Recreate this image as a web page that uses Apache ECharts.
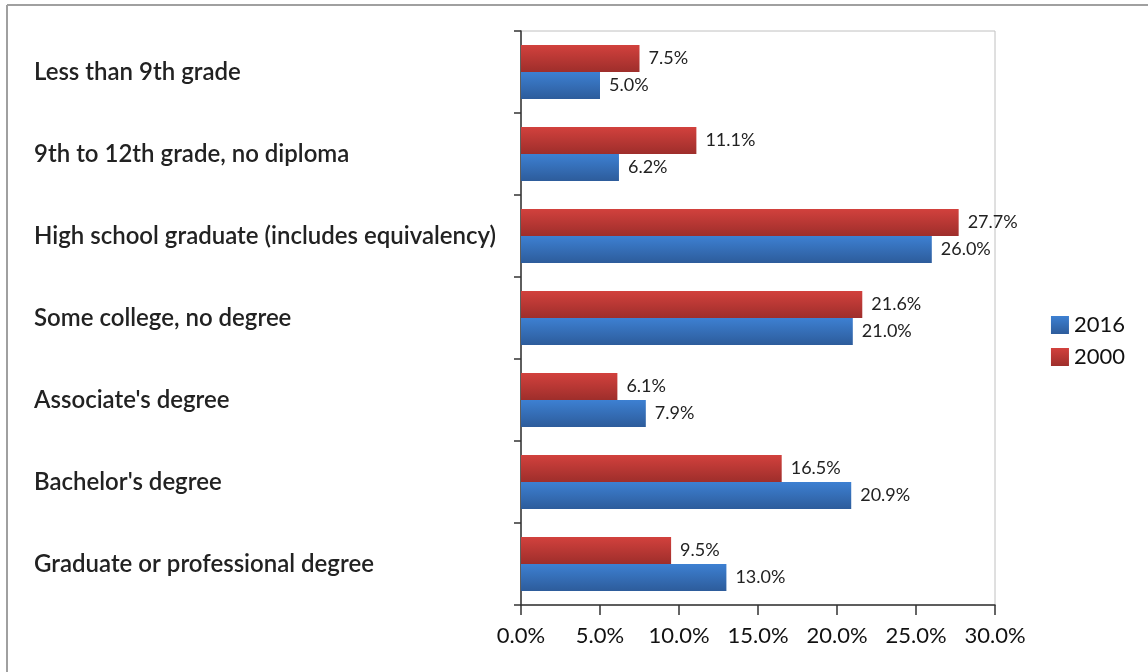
<!DOCTYPE html>
<html><head><meta charset="utf-8">
<script src="https://cdn.jsdelivr.net/npm/echarts@6/dist/echarts.min.js"></script>
<style>html,body{margin:0;padding:0;background:#fff}#c{width:1148px;height:672px}</style>
</head><body><div id="c"></div>
<script>
const categories = ["Less than 9th grade","9th to 12th grade, no diploma","High school graduate (includes equivalency)","Some college, no degree","Associate's degree","Bachelor's degree","Graduate or professional degree"];
const values2000 = [7.5, 11.1, 27.7, 21.6, 6.1, 16.5, 9.5];
const values2016 = [5.0, 6.2, 26.0, 21.0, 7.9, 20.9, 13.0];
const xTicks = [0, 5, 10, 15, 20, 25, 30];

const chart = echarts.init(document.getElementById('c'), null, {renderer:'canvas'});
const redGrad = new echarts.graphic.LinearGradient(0,0,0,1,[{offset:0,color:'#D2413D'},{offset:1,color:'#9E2E2B'}]);
const blueGrad = new echarts.graphic.LinearGradient(0,0,0,1,[{offset:0,color:'#3D80D2'},{offset:1,color:'#2D5C9B'}]);
const font = 'Lato, "Open Sans", sans-serif';
const lbl = {show:true, position:'right', distance:9, fontFamily:font, fontSize:18, color:'#222', formatter: p => p.value.toFixed(1) + '%'};
chart.setOption({
  animation:false,
  backgroundColor:'#fff',
  graphic:[
    {type:'line', shape:{x1:7, y1:5, x2:1148, y2:5}, style:{stroke:'#a0a0a0', lineWidth:2}},
    {type:'line', shape:{x1:7, y1:5, x2:7, y2:672}, style:{stroke:'#a0a0a0', lineWidth:2}}
  ],
  grid:{left:521, top:31, width:474, height:574, show:true, borderColor:'#c0c0c0', borderWidth:1, containLabel:false},
  legend:{orient:'vertical', right:18, top:309, itemWidth:18, itemHeight:18, itemGap:10,
    data:['2016','2000'], textStyle:{fontFamily:font, fontSize:22, color:'#111'}, icon:'rect'},
  xAxis:{type:'value', min:xTicks[0], max:xTicks[xTicks.length-1], interval:5,
    axisLine:{show:true, lineStyle:{color:'#333', width:1.5}},
    axisTick:{show:true, length:10, lineStyle:{color:'#333', width:1.5}},
    splitLine:{show:false},
    axisLabel:{margin:20, fontFamily:font, fontSize:22, color:'#111', formatter: v => v.toFixed(1) + '%'}},
  yAxis:{type:'category', data:categories, inverse:true,
    axisLine:{show:true, lineStyle:{color:'#333', width:1.5}},
    axisTick:{show:true, length:7, lineStyle:{color:'#333', width:1.5}},
    axisLabel:{align:'left', margin:487, fontFamily:font, fontWeight:600, fontSize:24, color:'#222'}},
  series:[
    {name:'2000', type:'bar', data:values2000, barWidth:27, barGap:'0%', itemStyle:{color:redGrad}, label:lbl},
    {name:'2016', type:'bar', data:values2016, barWidth:27, barGap:'0%', itemStyle:{color:blueGrad}, label:lbl}
  ]
});
</script></body></html>
